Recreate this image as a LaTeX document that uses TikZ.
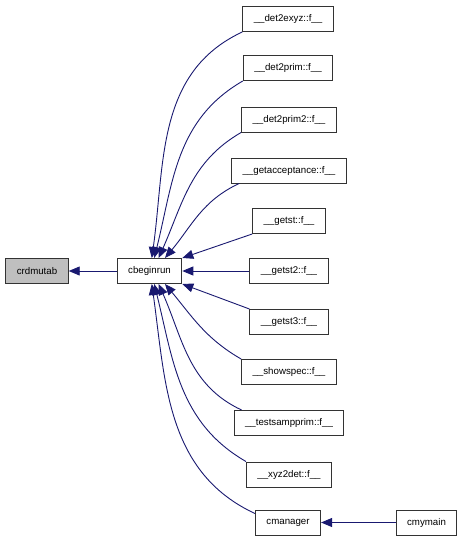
\documentclass[tikz,border=0pt]{standalone}
\usepackage{fontspec}
\setmainfont{Liberation Sans}
\usetikzlibrary{arrows.meta}
\tikzset{fn/.style = {draw = black!80, line width = 1pt, fill = white,
                      inner xsep = 11pt, inner ysep = 0pt, minimum height = 25pt,
                      font = \fontsize{9.7}{11}\selectfont}}
\tikzset{call/.style = {mnavy, line width = 0.9pt,
                        -{Triangle[length = 11pt, width = 9pt]}}}
\definecolor{mnavy}{RGB}{25, 25, 112}
\definecolor{mgray}{RGB}{191, 191, 191}

\begin{document}
\begin{tikzpicture}[x = 1pt, y = 1pt]
    \useasboundingbox (0, 0) rectangle (464, -544);

    \node [fn, fill = mgray] (crdmutab) at (37, -271) {crdmutab};
    \node [fn] (cbeginrun) at (149.5, -271) {cbeginrun};

    \node [fn] (det2exyz) at (288, -19) {\_\_det2exyz::f\_\_};
    \node [fn] (det2prim) at (288, -68) {\_\_det2prim::f\_\_};
    \node [fn] (det2prim2) at (289, -119.5) {\_\_det2prim2::f\_\_};
    \node [fn] (getacceptance) at (289, -170.5) {\_\_getacceptance::f\_\_};
    \node [fn] (getst) at (289, -221) {\_\_getst::f\_\_};
    \node [fn] (getst2) at (289, -271) {\_\_getst2::f\_\_};
    \node [fn] (getst3) at (289, -322) {\_\_getst3::f\_\_};
    \node [fn] (showspec) at (289, -372) {\_\_showspec::f\_\_};
    \node [fn] (testsampprim) at (289, -423) {\_\_testsampprim::f\_\_};
    \node [fn] (xyz2det) at (289, -474.5) {\_\_xyz2det::f\_\_};
    \node [fn] (cmanager) at (288, -522.5) {cmanager};
    \node [fn] (cmymain) at (426.5, -522.5) {cmymain};

    \draw [call] (cbeginrun) -- (crdmutab);
    \draw [call] (cmymain) -- (cmanager);

    % callers above
    \draw [call] (det2exyz.south west) to [out = 205, in = 82] (cbeginrun.80);
    \draw [call] (det2prim.south west) to [out = 210, in = 76] (cbeginrun.70);
    \draw [call] (det2prim2.south west) to [out = 210, in = 66] (cbeginrun.55);
    \draw [call] ([xshift = 8pt]getacceptance.south west) to [out = 205, in = 50] (cbeginrun.40);
    \draw [call] (getst.south west) -- (cbeginrun.north east);
    \draw [call] (getst2) -- (cbeginrun);

    % callers below
    \draw [call] (getst3.north west) -- (cbeginrun.south east);
    \draw [call] (showspec.north west) to [out = 150, in = -50] (cbeginrun.-40);
    \draw [call] ([xshift = 8pt]testsampprim.north west) to [out = 155, in = -66] (cbeginrun.-55);
    \draw [call] (xyz2det.north west) to [out = 150, in = -76] (cbeginrun.-70);
    \draw [call] ([yshift = -4pt]cmanager.north west) to [out = 155, in = -82] (cbeginrun.-80);
\end{tikzpicture}
\end{document}
